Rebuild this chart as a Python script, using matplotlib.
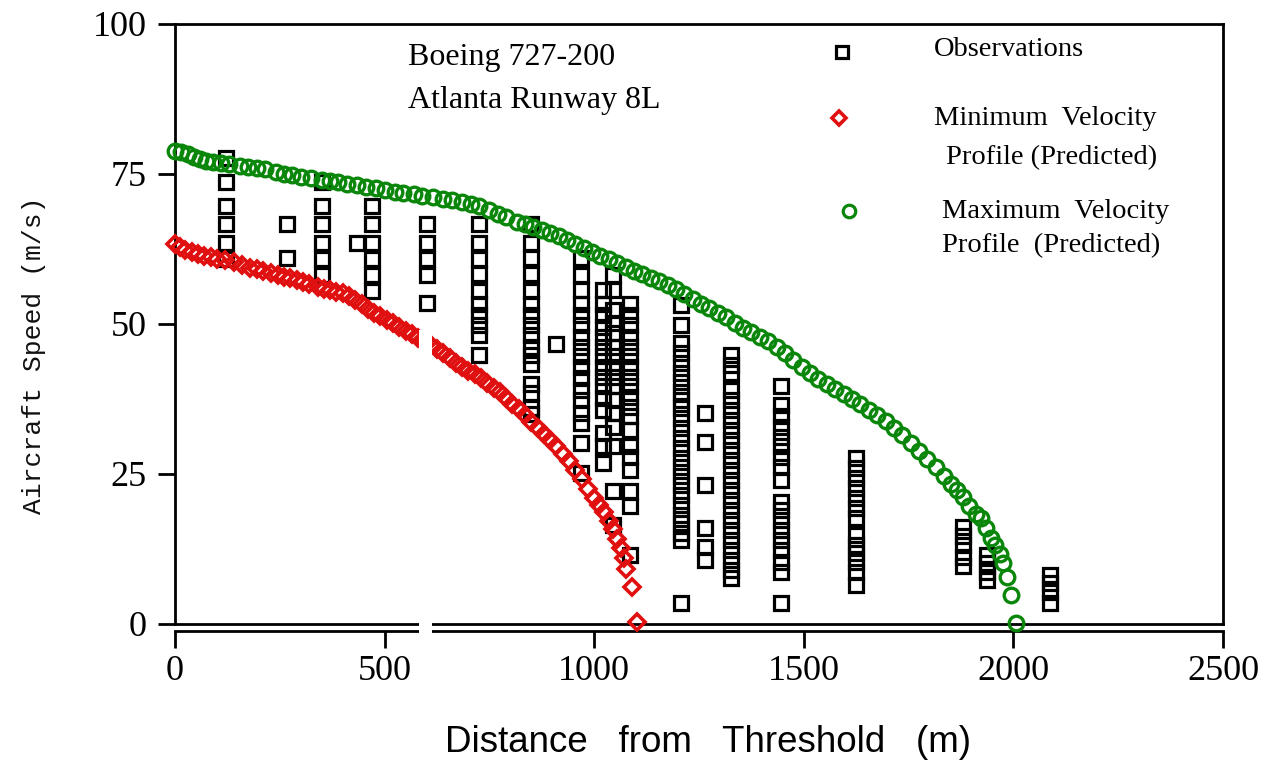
import matplotlib
matplotlib.use("Agg")
import matplotlib.pyplot as plt
from matplotlib.patches import Rectangle

# Predicted maximum velocity profile (distance m, speed m/s)
max_x = [0, 15, 30, 45, 60, 75, 90, 110, 130, 155, 175, 195, 215, 240, 260, 280,
         300, 325, 350, 370, 390, 410, 435, 455, 480, 500, 525, 545, 570, 590,
         615, 640, 660, 685, 705, 725, 750, 770, 790, 815, 835, 855, 875, 895,
         915, 935, 955, 975, 995, 1015, 1035, 1055, 1075, 1095, 1115, 1135, 1155,
         1175, 1195, 1215, 1235, 1255, 1275, 1295, 1315, 1335, 1355, 1375, 1395,
         1415, 1435, 1455, 1475, 1495, 1515, 1535, 1555, 1575, 1595, 1615, 1635,
         1655, 1675, 1695, 1715, 1735, 1755, 1775, 1795, 1815, 1835, 1850, 1865,
         1880, 1895, 1910, 1922, 1934, 1946, 1957, 1967, 1976, 1984, 1994, 2007]
max_v = [78.8, 78.6, 78.4, 77.9, 77.5, 77.2, 77.0, 76.8, 76.6, 76.4, 76.2, 76.0,
         75.8, 75.4, 75.0, 74.8, 74.5, 74.3, 74.0, 73.8, 73.6, 73.4, 73.2, 72.9,
         72.7, 72.4, 72.0, 71.8, 71.6, 71.3, 71.1, 70.9, 70.6, 70.3, 70.0, 69.6,
         69.0, 68.4, 67.8, 67.0, 66.6, 66.1, 65.6, 65.1, 64.6, 64.0, 63.4, 62.7,
         62.0, 61.4, 60.8, 60.2, 59.5, 58.9, 58.3, 57.7, 57.1, 56.5, 55.8, 55.0,
         54.1, 53.3, 52.6, 51.9, 51.1, 50.2, 49.3, 48.6, 47.9, 47.1, 46.2, 45.2,
         44.0, 42.9, 41.9, 40.9, 40.0, 39.1, 38.3, 37.5, 36.6, 35.7, 34.8, 33.8,
         32.7, 31.5, 30.2, 28.9, 27.5, 26.1, 24.6, 23.4, 22.3, 21.1, 19.6, 18.4,
         17.6, 16.0, 14.3, 13.1, 11.7, 10.2, 7.8, 4.8, 0.2]

# Predicted minimum velocity profile
min_x = [0, 12, 24, 40, 55, 70, 85, 100, 120, 140, 160, 180, 195, 210, 230, 245,
         260, 275, 290, 305, 320, 340, 355, 370, 385, 400, 415, 430, 445, 460,
         475, 490, 505, 520, 535, 550, 565, 580, 595, 610, 625, 640, 655, 670,
         685, 700, 715, 730, 745, 760, 775, 790, 805, 820, 835, 850, 865, 880,
         895, 910, 925, 940, 955, 970, 985, 1000, 1012, 1024, 1035, 1045, 1055,
         1063, 1070, 1077, 1090, 1101]
min_v = [63.3, 62.9, 62.4, 62.0, 61.7, 61.4, 61.1, 60.9, 60.6, 60.3, 59.9, 59.4,
         59.1, 58.9, 58.5, 58.2, 57.9, 57.7, 57.3, 57.0, 56.6, 56.2, 55.9, 55.6,
         55.4, 55.1, 54.6, 54.0, 53.3, 52.5, 51.9, 51.3, 50.7, 50.1, 49.5, 48.9,
         48.3, 47.7, 47.1, 46.5, 45.8, 45.1, 44.3, 43.5, 42.8, 42.2, 41.6, 41.0,
         40.2, 39.4, 38.6, 37.7, 36.7, 35.8, 34.8, 33.7, 32.6, 31.6, 30.6, 29.6,
         28.4, 27.1, 25.6, 24.1, 22.5, 21.0, 19.8, 18.6, 17.2, 15.8, 14.2, 12.6,
         11.0, 9.2, 6.2, 0.3]

# Observed speeds, grouped by measuring station (distance m)
obs_stations = [121, 267, 350, 433, 469, 602, 724, 850, 910, 969, 1021, 1045,
                1086, 1207, 1264, 1326, 1445, 1624, 1879, 1938, 2088]
obs_speeds = [
    [77.7, 73.7, 69.7, 66.7, 63.5, 60.8],
    [66.7, 61.0],
    [73.7, 69.7, 66.7, 63.5, 60.8, 58.2],
    [63.5],
    [69.7, 66.7, 63.5, 60.8, 58.2, 55.5],
    [66.7, 63.5, 60.8, 58.2, 53.5],
    [66.6, 63.5, 60.9, 58.3, 55.5, 53.4, 51.5, 49.8, 48.2, 44.8],
    [66.7, 63.5, 61.0, 58.3, 55.5, 53.4, 51.5, 49.8, 48.2, 46.2, 44.8, 43.3,
     40.0, 38.5, 36.0, 35.0],
    [46.7],
    [61.0, 58.2, 55.7, 53.4, 51.5, 49.8, 47.9, 46.2, 44.6, 42.9, 41.0, 39.0,
     37.3, 35.1, 33.5, 30.1, 25.1],
    [55.7, 53.4, 51.5, 49.5, 47.9, 46.2, 44.6, 42.9, 41.2, 39.6, 37.6, 35.7,
     31.8, 29.6, 26.8],
    [58.2, 55.7, 52.3, 50.1, 48.5, 46.2, 44.6, 42.9, 41.2, 39.6, 37.3, 35.1,
     32.9, 29.6, 22.1, 16.5],
    [53.4, 51.5, 49.8, 47.9, 46.2, 44.6, 42.9, 41.2, 39.6, 37.9, 36.2, 34.6,
     32.3, 29.6, 27.9, 25.7, 22.1, 19.6, 11.5],
    [53.2, 49.8, 46.8, 45.1, 43.5, 41.8, 40.4, 38.7, 37.3, 36.0, 34.3, 32.6,
     31.0, 29.3, 27.6, 26.2, 24.6, 23.2, 21.5, 19.8, 18.2, 16.8, 15.1, 14.0, 3.5],
    [35.1, 30.4, 23.2, 16.0, 12.9, 10.6],
    [44.8, 43.2, 41.8, 39.0, 37.3, 35.7, 34.0, 32.3, 30.7, 29.0, 27.3, 25.7,
     24.0, 22.3, 20.7, 19.0, 17.3, 15.7, 14.0, 12.3, 10.7, 9.0, 7.6],
    [39.6, 36.5, 34.6, 32.9, 31.2, 29.6, 27.9, 26.2, 24.0, 20.4, 19.0, 17.3,
     15.7, 14.0, 12.3, 10.4, 8.7, 3.5],
    [27.6, 26.0, 24.3, 22.6, 21.0, 19.3, 17.6, 14.8, 13.2, 11.8, 10.4, 8.7, 6.5],
    [16.2, 14.6, 13.2, 11.2, 9.6],
    [11.5, 10.1, 8.7, 7.3],
    [8.2, 6.8, 5.4, 3.5],
]

x_ticks = [0, 500, 1000, 1500, 2000, 2500]
y_ticks = [0, 25, 50, 75, 100]

legend_labels = ["Observations", "Minimum  Velocity", "Profile (Predicted)",
                 "Maximum  Velocity", "Profile  (Predicted)"]
title_lines = ["Boeing 727-200", "Atlanta Runway 8L"]

GREEN = "#0a870a"
RED = "#e01010"
SERIF = "Liberation Serif"

W, H = 1266, 762
fig = plt.figure(figsize=(W / 100, H / 100), dpi=100)
ax = fig.add_axes([175 / W, 1 - 624 / H, (1223 - 175) / W, 600 / H])
ax.set_xlim(0, 2500)
ax.set_ylim(0, 100)

# observation squares
obs_x = [s for s, vals in zip(obs_stations, obs_speeds) for _ in vals]
obs_y = [v for vals in obs_speeds for v in vals]
ax.plot(obs_x, obs_y, ls="none", marker="s", ms=10, mfc="none", mec="black",
        mew=2.3, zorder=3)

# predicted profiles
ax.plot(min_x, min_v, ls="none", marker="D", ms=8, mfc="none", mec=RED,
        mew=2.6, zorder=4, clip_on=False)
ax.plot(max_x, max_v, ls="none", marker="o", ms=10.5, mfc="none", mec=GREEN,
        mew=2.4, zorder=4, clip_on=False)

# frame: box on top/left/right, zero line, and an offset bottom axis
for side in ("top", "left", "right"):
    ax.spines[side].set_linewidth(2)
ax.spines["bottom"].set_position(("outward", 5))
ax.spines["bottom"].set_linewidth(2)
ax.axhline(0, color="black", lw=2, zorder=2.6, clip_on=False)

ax.set_xticks(x_ticks)
ax.set_yticks(y_ticks)
ax.tick_params(axis="both", direction="out", length=12.5, width=2,
               labelsize=26, colors="black")
ax.tick_params(axis="y", pad=8)
ax.tick_params(axis="x", pad=5)
for lab in ax.get_xticklabels() + ax.get_yticklabels():
    lab.set_fontfamily(SERIF)

# break in the axis
ax.add_patch(Rectangle((583, -4), 29, 53, facecolor="white", edgecolor="none",
                       zorder=10, clip_on=False))

# annotation
ax.text(555, 94.5, title_lines[0], fontsize=23, family=SERIF, va="center")
ax.text(555, 87.3, title_lines[1], fontsize=23, family=SERIF, va="center")

# legend drawn by hand
ax.plot([1590], [95.3], ls="none", marker="s", ms=9, mfc="none", mec="black",
        mew=2.3, clip_on=False)
ax.plot([1583], [84.3], ls="none", marker="D", ms=7, mfc="none", mec=RED,
        mew=2.6, clip_on=False)
ax.plot([1607], [68.8], ls="none", marker="o", ms=9, mfc="none", mec=GREEN,
        mew=2.3, clip_on=False)
leg_pos = [(1810, 95.7), (1810, 84.3), (1840, 77.8), (1829, 68.8), (1829, 63.0)]
for (lx, ly), txt in zip(leg_pos, legend_labels):
    ax.text(lx, ly, txt, fontsize=20.5, family=SERIF, va="center")

fig.text(34 / W, 1 - 355 / H, "Aircraft Speed (m/s)", rotation=90,
         fontsize=19, family="Liberation Mono", ha="center", va="center",
         color="#111111")
fig.text(708 / W, 1 - 742 / H, "Distance   from   Threshold   (m)", fontsize=26.5,
         family="Liberation Sans", ha="center", va="center")

fig.savefig("out.png", dpi=100)
